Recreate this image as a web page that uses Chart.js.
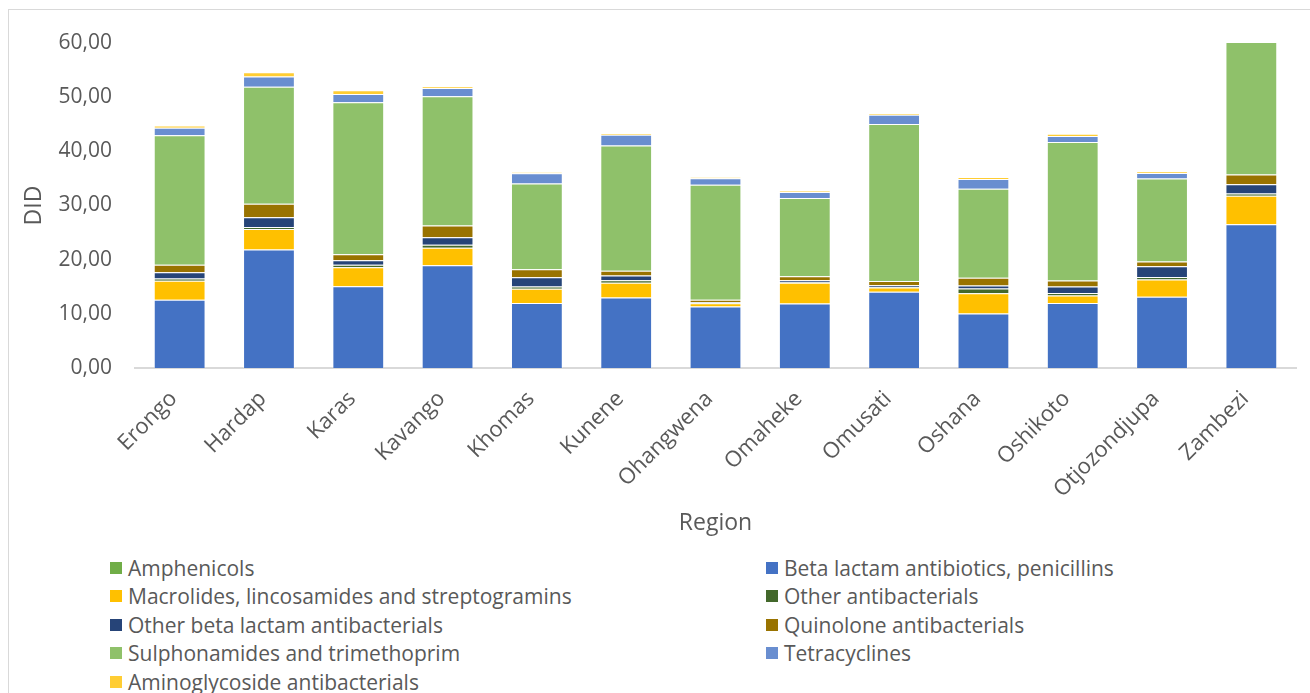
<!DOCTYPE html>
<html>
<head>
<meta charset="utf-8">
<script src="https://cdn.jsdelivr.net/npm/chart.js@4.4.1/dist/chart.umd.min.js"></script>
<style>
  body { margin: 0; background: #fff; font-family: "Open Sans", sans-serif; }
  #frame { position: absolute; left: 8px; top: 9px; width: 1320px; height: 720px; border: 1px solid #d9d9d9; }
  #chart { position: absolute; left: 0; top: 0; }
  #legend { position: absolute; left: 0; top: 0; width: 1310px; }
  .item { position: absolute; display: flex; align-items: center; color: #595959; font-size: 21px; white-space: nowrap; }
  .swatch { width: 12px; height: 12px; margin-right: 6px; }
</style>
</head>
<body>
<div id="frame"></div>
<canvas id="chart" width="1310" height="550"></canvas>
<div id="legend"></div>
<script>
const regions = ["Erongo", "Hardap", "Karas", "Kavango", "Khomas", "Kunene", "Ohangwena", "Omaheke", "Omusati", "Oshana", "Oshikoto", "Otjozondjupa", "Zambezi"]

const amphenicols = [0.02, 0.02, 0.02, 0.02, 0.02, 0.02, 0.02, 0.02, 0.02, 0.02, 0.02, 0.02, 0.02]
const penicillins = [12.6, 21.85, 15.06, 18.95, 11.97, 13.0, 11.35, 11.9, 14.07, 10.06, 11.97, 13.15, 26.5]
const macrolides = [3.5, 3.8, 3.5, 3.25, 2.65, 2.7, 0.6, 3.8, 0.75, 3.7, 1.4, 3.15, 5.3]
const otherAntibacterials = [0.4, 0.35, 0.5, 0.55, 0.4, 0.5, 0.1, 0.1, 0.1, 0.9, 0.45, 0.5, 0.4]
const otherBetaLactam = [1.15, 1.8, 0.8, 1.35, 1.7, 0.85, 0.1, 0.4, 0.35, 0.55, 1.2, 1.95, 1.7]
const quinolones = [1.4, 2.5, 1.1, 2.2, 1.5, 0.9, 0.45, 0.7, 0.75, 1.45, 1.1, 0.9, 1.8]
const sulphonamides = [23.9, 21.6, 28.1, 23.85, 15.8, 23.1, 21.2, 14.45, 29.0, 16.4, 25.6, 15.3, 24.5]
const tetracyclines = [1.4, 1.9, 1.5, 1.5, 1.9, 2.0, 1.2, 1.1, 1.7, 1.8, 1.1, 1.05, 1.5]
const aminoglycosides = [0.4, 0.8, 0.7, 0.3, 0.2, 0.3, 0.2, 0.25, 0.3, 0.4, 0.4, 0.25, 0.3]

const yTicks = [0, 10, 20, 30, 40, 50, 60]

const series = [
  ["Amphenicols", amphenicols, "#70ad47"],
  ["Beta lactam antibiotics, penicillins", penicillins, "#4472c4"],
  ["Macrolides, lincosamides and streptogramins", macrolides, "#ffc000"],
  ["Other antibacterials", otherAntibacterials, "#43682b"],
  ["Other beta lactam antibacterials", otherBetaLactam, "#264478"],
  ["Quinolone antibacterials", quinolones, "#997300"],
  ["Sulphonamides and trimethoprim", sulphonamides, "#8fc16a"],
  ["Tetracyclines", tetracyclines, "#698ed0"],
  ["Aminoglycoside antibacterials", aminoglycosides, "#ffcd33"]
]

const textColor = "#595959"
const family = "'Open Sans', sans-serif"

const chart = new Chart(document.getElementById("chart"), {
  type: "bar",
  data: {
    labels: regions,
    datasets: series.map(([label, data, color]) => ({
      label,
      data,
      backgroundColor: color,
      borderColor: "rgba(255,255,255,0.35)",
      borderWidth: 1,
      barPercentage: 0.58,
      categoryPercentage: 1
    }))
  },
  options: {
    responsive: false,
    animation: false,
    layout: { padding: { top: 43, right: 14, left: 0, bottom: 0 } },
    plugins: {
      legend: { display: false },
      tooltip: { enabled: false }
    },
    scales: {
      x: {
        stacked: true,
        grid: { display: false, drawTicks: false },
        border: { display: true, color: "#d9d9d9", width: 2 },
        ticks: { color: textColor, font: { family, size: 22 }, minRotation: 45, maxRotation: 45, padding: 18, labelOffset: -6 },
        title: { display: true, text: "Region", color: textColor, font: { family, size: 23 }, padding: { top: 0, bottom: 13 } },
        afterFit: scale => { scale.height = 182 }
      },
      y: {
        stacked: true,
        min: 0,
        max: 60,
        grid: { display: false, drawTicks: false },
        border: { display: false },
        afterBuildTicks: scale => { scale.ticks = yTicks.map(value => ({ value })) },
        ticks: {
          color: textColor,
          font: { family, size: 21 },
          padding: 23,
          callback: value => value.toFixed(2).replace(".", ",")
        },
        title: { display: true, text: "DID", color: textColor, font: { family, size: 23 }, padding: { top: 21, bottom: 0 } },
        afterFit: scale => { scale.width = 135 }
      }
    }
  }
})

// two-column legend under the plot, in the dataset order
const legend = document.getElementById("legend")
const rowTops = [569, 597, 626, 654, 683]
chart.data.datasets.forEach((ds, i) => {
  const item = document.createElement("div")
  item.className = "item"
  item.style.left = (i % 2 === 0 ? 110 : 766) + "px"
  item.style.top = (rowTops[Math.floor(i / 2)] - 15) + "px"
  item.innerHTML = `<span class="swatch" style="background:${ds.backgroundColor}"></span><span>${ds.label}</span>`
  legend.appendChild(item)
})
</script>
</body>
</html>
